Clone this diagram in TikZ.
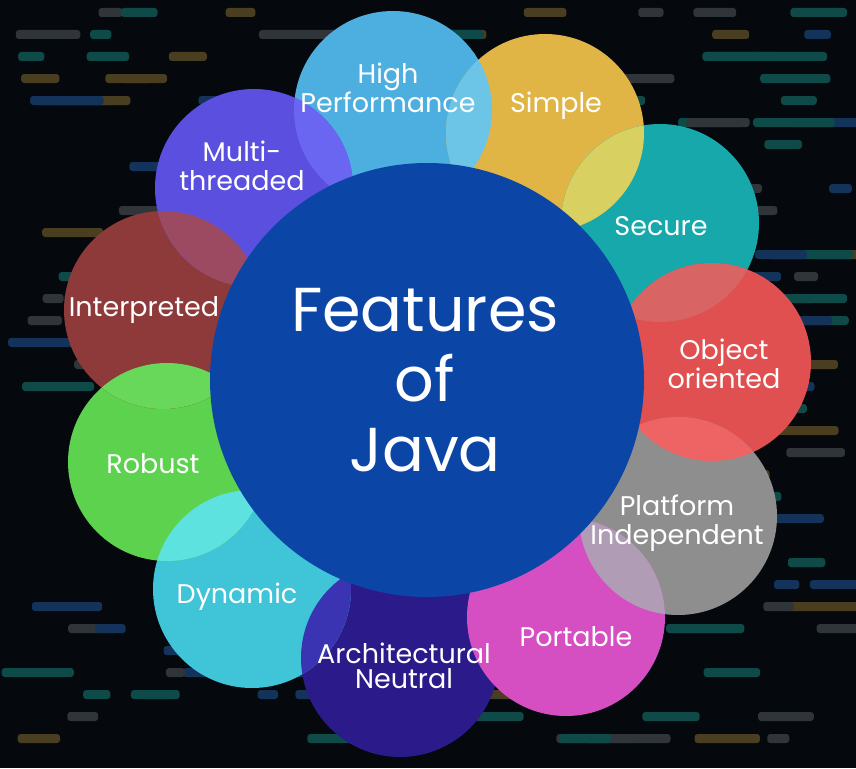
\documentclass[tikz,border=0pt]{standalone}
\usepackage{fontspec}
\setmainfont{Poppins}

\definecolor{bgdark}{HTML}{05080C}
\definecolor{javablue}{HTML}{0B46A6}
\definecolor{hpblue}{HTML}{4DAEE0}
\definecolor{simpleyel}{HTML}{E0B545}
\definecolor{secureteal}{HTML}{16A8AB}
\definecolor{objred}{HTML}{E05050}
\definecolor{platgrey}{HTML}{8E8E8E}
\definecolor{portpink}{HTML}{D64FC2}
\definecolor{archindigo}{HTML}{2A1A8A}
\definecolor{dyncyan}{HTML}{40C4D8}
\definecolor{robgreen}{HTML}{5CD24E}
\definecolor{intbrown}{HTML}{8E3A3A}
\definecolor{mtpurple}{HTML}{5B4FE0}
% overlap tints
\definecolor{lensHS}{HTML}{6CC4E6}
\definecolor{lensHM}{HTML}{6A66F2}
\definecolor{lensSS}{HTML}{D8D060}
\definecolor{lensSO}{HTML}{D86464}
\definecolor{lensOP}{HTML}{EE6464}
\definecolor{lensPP}{HTML}{B09CB4}
\definecolor{lensAD}{HTML}{3A34B2}
\definecolor{lensDR}{HTML}{5EE2E0}
\definecolor{lensRI}{HTML}{68D85A}
\definecolor{lensIM}{HTML}{9C4A62}
% background code
\definecolor{codebar0}{HTML}{0E4A48}
\definecolor{codebar1}{HTML}{14335A}
\definecolor{codebar2}{HTML}{30353A}
\definecolor{codebar3}{HTML}{4A3E20}

\newcommand{\bubr}{99pt}

\begin{document}
\begin{tikzpicture}[x=1pt, y=-1pt,
    bub/.style={circle, minimum size=198pt, inner sep=0pt, fill=#1},
    lbl/.style={text=white, align=center, font=\fontsize{27}{29}\selectfont}]
  \useasboundingbox (0,0) rectangle (856,768);
  \fill[bgdark] (0,0) rectangle (856,768);

  % blurred code in the background
  \pgfmathsetseed{17}
  \foreach \row in {0,...,33} {
    \foreach \k in {1,...,7} {
      \pgfmathsetmacro{\bx}{rnd*830}
      \pgfmathsetmacro{\bw}{18+rnd*70}
      \pgfmathtruncatemacro{\bc}{rnd*3.99}
      \fill[codebar\bc, rounded corners=3pt] (\bx, \row*22+8) rectangle ++(\bw, 9);
    }
  }

  % feature bubbles
  \node[bub=hpblue]     (hp)       at (393,110) {};
  \node[bub=simpleyel]  (simple)   at (545,133) {};
  \node[bub=secureteal] (secure)   at (660,223) {};
  \node[bub=objred]     (objor)    at (712,362) {};
  \node[bub=platgrey]   (platind)  at (678,516) {};
  \node[bub=archindigo] (archneu)  at (400,658) {};
  \node[bub=portpink]   (portable) at (566,617) {};
  \node[bub=dyncyan]    (dynamic)  at (252,589) {};
  \node[bub=robgreen]   (robust)   at (167,462) {};
  \node[bub=intbrown]   (interp)   at (163,310) {};
  \node[bub=mtpurple]   (multith)  at (254,188) {};

  % lighter overlaps
  \foreach \a/\b/\c in {hp/simple/lensHS, hp/multith/lensHM, simple/secure/lensSS,
      secure/objor/lensSO, objor/platind/lensOP, platind/portable/lensPP,
      archneu/dynamic/lensAD, dynamic/robust/lensDR, robust/interp/lensRI,
      interp/multith/lensIM} {
    \begin{scope}
      \clip (\a.center) circle[radius=\bubr];
      \fill[\c] (\b.center) circle[radius=\bubr];
    \end{scope}
  }

  % centre
  \node[circle, minimum size=434pt, inner sep=0pt, fill=javablue] (java) at (427,380) {};
  \node[text=white, align=center, font=\fontsize{62}{70}\selectfont] (java-t) at (425,380)
    {Features\\of\\Java};

  % labels
  \node[lbl] (hp-t)       at (388,88)  {High\\Performance};
  \node[lbl] (simple-t)   at (556,106) {Simple};
  \node[lbl] (secure-t)   at (661,226) {Secure};
  \node[lbl] (objor-t)    at (724,364) {Object\\oriented};
  \node[lbl] (platind-t)  at (677,523) {Platform\\Independent};
  \node[lbl] (portable-t) at (576,637) {Portable};
  \node[lbl, font=\fontsize{27}{25}\selectfont] (archneu-t) at (404,666) {Architectural\\Neutral};
  \node[lbl] (dynamic-t)  at (237,597) {Dynamic};
  \node[lbl] (robust-t)   at (153,464) {Robust};
  \node[lbl] (interp-t)   at (144,310) {Interpreted};
  \node[lbl] (multith-t)  at (242,166) {Multi-\\threaded};
\end{tikzpicture}
\end{document}
